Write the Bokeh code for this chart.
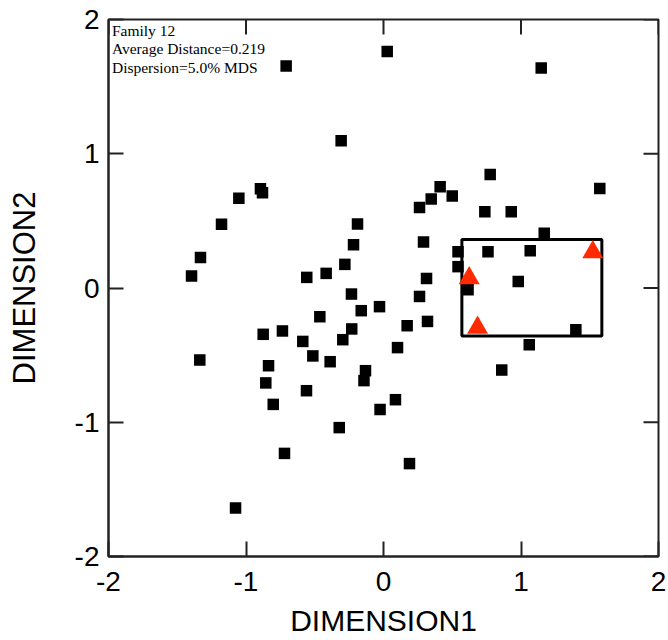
import math
from bokeh.plotting import figure
from bokeh.models import LinearAxis, Range1d, FixedTicker, ColumnDataSource
from bokeh.core.properties import value
from bokeh.embed import file_html
from bokeh.resources import INLINE

# ---- data ----
sq_x = [-0.708, 0.027, 1.147, -0.308, -0.895, -0.880, -1.052, -1.178, -1.331, -1.396,
        -0.189, -0.218, -0.281, -0.558, -0.417, -0.233, -0.162, -0.029, -0.463, -0.231,
        -0.296, -0.875, -0.735, -0.587, 0.102, -0.514, -0.388, -1.336, -0.836, -0.131,
        -0.142, -0.856, -0.560, -0.802, -0.025, 0.087, -0.322, -0.720, -1.076, 0.189,
        0.412, 0.347, 0.262, 0.500, 0.776, 0.737, 0.929, 1.573, 1.169, 0.291,
        0.542, 0.760, 1.067, 0.542, 0.313, 0.980, 0.615, 0.262, 0.172, 0.320,
        1.399, 1.060, 0.860]
sq_y = [1.653, 1.762, 1.638, 1.097, 0.739, 0.710, 0.669, 0.474, 0.228, 0.089,
        0.477, 0.322, 0.176, 0.079, 0.109, -0.045, -0.169, -0.139, -0.214, -0.305,
        -0.385, -0.345, -0.320, -0.398, -0.444, -0.506, -0.549, -0.536, -0.579, -0.616,
        -0.690, -0.707, -0.765, -0.867, -0.905, -0.832, -1.040, -1.232, -1.638, -1.308,
        0.754, 0.663, 0.600, 0.685, 0.846, 0.568, 0.568, 0.742, 0.407, 0.343,
        0.270, 0.270, 0.278, 0.159, 0.071, 0.049, -0.013, -0.063, -0.281, -0.249,
        -0.311, -0.422, -0.611]

tri_x = [0.623, 1.522, 0.684]
tri_y = [0.074, 0.267, -0.296]

box_left, box_right, box_bottom, box_top = 0.570, 1.588, -0.357, 0.362

axis_min, axis_max = -2, 2
tick_values = [-2, -1, 0, 1, 2]
tick_labels = ["-2", "-1", "0", "1", "2"]
note_lines = ["Family 12", "Average Distance=0.219", "Dispersion=5.0% MDS"]
note_x = [-1.975, -1.975, -1.975]
note_y = [1.920, 1.784, 1.646]

x_title = "DIMENSION1"
y_title = "DIMENSION2"

# ---- figure ----
p = figure(width=668, height=640, output_backend="svg",
           toolbar_location=None,
           x_range=Range1d(axis_min, axis_max), y_range=Range1d(axis_min, axis_max),
           x_axis_location=None, y_axis_location=None,
           min_border_left=108, min_border_top=19, min_border_right=10,
           min_border_bottom=84)
AX_COLOR = "#222222"
p.outline_line_color = AX_COLOR
p.outline_line_width = 2
p.xgrid.visible = False
p.ygrid.visible = False
p.background_fill_color = "white"
p.border_fill_color = "white"

ticker = FixedTicker(ticks=tick_values)


def style_axis(ax):
    ax.ticker = ticker
    ax.axis_line_color = AX_COLOR
    ax.axis_line_width = 2
    ax.major_tick_line_color = AX_COLOR
    ax.major_tick_line_width = 2
    ax.major_tick_in = 15
    ax.major_tick_out = 0
    ax.minor_tick_line_color = None
    ax.major_label_text_font = "Liberation Sans"
    ax.major_label_text_font_size = "28px"
    ax.major_label_text_color = "black"
    ax.axis_label_text_font = "Liberation Sans"
    ax.axis_label_text_font_size = "30px"
    ax.axis_label_text_font_style = "normal"
    ax.axis_label_text_color = "black"
    ax.major_label_overrides = dict(zip(tick_values, tick_labels))


bottom = LinearAxis(axis_label=x_title)
style_axis(bottom)
bottom.major_label_standoff = 15
bottom.axis_label_standoff = 10
p.add_layout(bottom, "below")

left = LinearAxis(axis_label=y_title)
style_axis(left)
left.axis_label_text_font_size = "31px"
left.major_label_standoff = 9
left.axis_label_standoff = 30
p.add_layout(left, "left")

# inward ticks on the top and right frame edges (half of each dash is clipped)
p.scatter(x=tick_values, y=[axis_max] * len(tick_values), marker="dash", size=30,
          angle=math.pi / 2, line_color=AX_COLOR, line_width=2)
p.scatter(x=[axis_max] * len(tick_values), y=tick_values, marker="dash", size=30,
          line_color=AX_COLOR, line_width=2)

# box
p.quad(left=[box_left], right=[box_right], bottom=[box_bottom], top=[box_top],
       fill_color=None, line_color="black", line_width=3)

# squares
p.scatter(sq_x, sq_y, marker="square", size=11.5, fill_color="black",
          line_color=None)

# triangles
p.scatter(tri_x, tri_y, marker="triangle", size=21, fill_color="#ff2a00",
          line_color=None)

# notes
src = ColumnDataSource(dict(x=note_x, y=note_y, t=note_lines))
p.text(x="x", y="y", text="t", source=src, text_font=value("Liberation Serif"),
       text_font_size="15.5px", text_color="black", text_baseline="alphabetic",
       text_align="left")

open("out.html", "w").write(file_html(p, INLINE))
